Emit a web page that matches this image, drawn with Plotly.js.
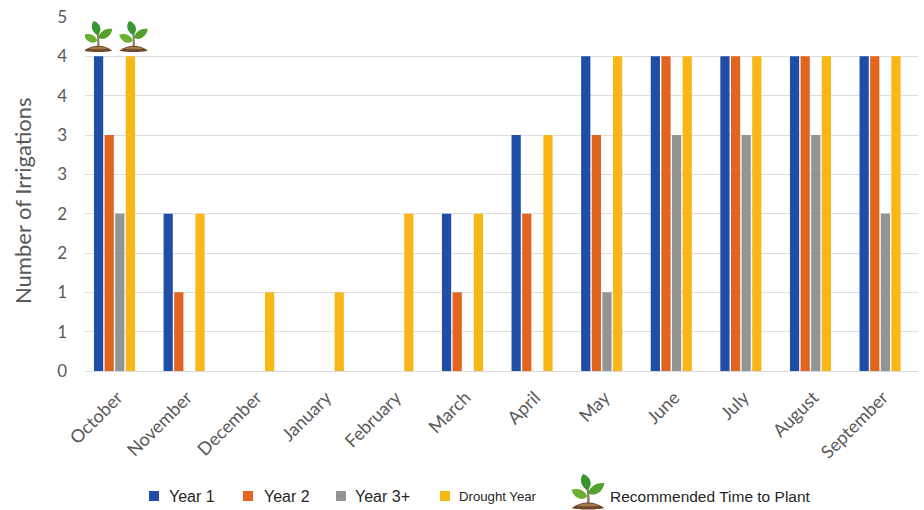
<!DOCTYPE html>
<html>
<head>
<meta charset="utf-8">
<script src="https://cdn.plot.ly/plotly-3.0.1.min.js"></script>
<style>html,body{margin:0;padding:0;background:#fff}#chart{width:924px;height:510px}</style>
</head>
<body>
<div id="chart"></div>
<script>
const months = ["October","November","December","January","February","March","April","May","June","July","August","September"];
const year1 =   [4,2,0,0,0,2,3,4,4,4,4,4];
const year2 =   [3,1,0,0,0,1,2,3,4,4,4,4];
const year3 =   [2,0,0,0,0,0,0,1,3,3,3,2];
const drought = [4,2,1,1,2,2,3,4,4,4,4,4];
const seriesNames = ["Year 1","Year 2","Year 3+","Drought Year"];
const seriesColors = ["#1F4EA6","#E2651F","#949494","#F8B716"];
const yTickVals = [0,0.5,1,1.5,2,2.5,3,3.5,4,4.5];
const yTickText = ["0","1","1","2","2","3","3","4","4","5"];
const yTitle = "Number of Irrigations";
const plantNote = "Recommended Time to Plant";

// Seedling icon used above the chart and in the key
const plantSvg = `<svg xmlns="http://www.w3.org/2000/svg" viewBox="0 0 100 110">
<path d="M46 94 C49 74 48 58 45 42 L52 42 C55 60 55 78 55 94Z" fill="#8c7a63"/>
<path d="M48 68 C38 48 20 42 0 48 C6 72 32 86 48 68Z" fill="#6bb033"/>
<path d="M50 58 C60 34 78 26 100 28 C96 54 70 72 50 58Z" fill="#55a02c"/>
<path d="M48 50 C24 36 24 10 36 0 C60 10 66 34 48 50Z" fill="#38952f"/>
<path d="M0 104 C16 92 34 87 50 87 C68 87 86 93 100 104 C82 110 18 110 0 104Z" fill="#6e4a2a"/>
<path d="M16 97 C30 91 40 90 50 90 C62 90 74 92 84 97 C66 100 34 100 16 97Z" fill="#a5794a"/>
</svg>`;
const plantSrc = "data:image/svg+xml;charset=utf-8," + encodeURIComponent(plantSvg);

const PLOT = {left:85, right:918, top:17, bottom:371};
const fx = px => (px - PLOT.left) / (PLOT.right - PLOT.left);
const fy = py => (PLOT.bottom - py) / (PLOT.bottom - PLOT.top);

const values = [year1, year2, year3, drought];
const traces = values.map((v, i) => ({
  type: "bar",
  name: seriesNames[i],
  x: months,
  y: v,
  marker: {color: seriesColors[i], line: {width: 0}},
  hoverinfo: "x+y+name"
}));

// Key drawn along the bottom edge
const keyX = [149, 243, 336, 440];
const keyText = [167, 262, 353, 457];
const keySize = [16, 16, 16, 13.2];
const keyShapes = keyX.map((x, i) => ({
  type: "rect", xref: "paper", yref: "paper",
  x0: fx(x), x1: fx(x + 10), y0: fy(501), y1: fy(491),
  fillcolor: seriesColors[i], line: {width: 0}
}));
const keyNotes = keyText.map((x, i) => ({
  xref: "paper", yref: "paper", x: fx(x), y: fy(496),
  xanchor: "left", yanchor: "middle", showarrow: false,
  text: seriesNames[i],
  font: {family: "Liberation Sans, Arial, sans-serif", size: keySize[i], color: "#262626"}
}));
keyNotes.push({
  xref: "paper", yref: "paper", x: fx(608), y: fy(496),
  xanchor: "left", yanchor: "middle", showarrow: false,
  text: plantNote,
  font: {family: "Liberation Sans, Arial, sans-serif", size: 15.5, color: "#262626"}
});
// Vertical axis caption, set slightly below the middle of the plot
keyNotes.push({
  xref: "paper", yref: "paper", x: fx(22), y: fy(201),
  xanchor: "center", yanchor: "middle", showarrow: false, textangle: -90,
  text: yTitle,
  font: {size: 22, color: "#595959"}
});

const layout = {
  width: 924, height: 510,
  margin: {l: PLOT.left, r: 924 - PLOT.right, t: PLOT.top, b: 510 - PLOT.bottom, pad: 0},
  paper_bgcolor: "#fff", plot_bgcolor: "#fff",
  barmode: "group", bargap: 0.39, bargroupgap: 0.13,
  showlegend: false,
  font: {family: "Lato, sans-serif", color: "#595959"},
  xaxis: {
    type: "category", range: [-0.424, 11.545],
    tickangle: -45, tickfont: {size: 18, color: "#595959"},
    ticks: "", ticklabelstandoff: 8, ticklabelshift: 3,
    showgrid: false, showline: true, linecolor: "#d9d9d9", linewidth: 1, automargin: false
  },
  yaxis: {
    range: [0, 4.5], tickvals: yTickVals, ticktext: yTickText,
    tickfont: {size: 17, color: "#595959"}, ticks: "", ticklabelstandoff: 17,
    gridcolor: "#dedede", gridwidth: 1.4, zeroline: false, automargin: false
  },
  shapes: keyShapes,
  annotations: keyNotes,
  images: [
    {source: plantSrc, xref: "x", yref: "y", x: -0.237, y: 4.05, sizex: 0.42, sizey: 0.40, xanchor: "center", yanchor: "bottom", layer: "above"},
    {source: plantSrc, xref: "x", yref: "y", x: 0.273, y: 4.05, sizex: 0.42, sizey: 0.40, xanchor: "center", yanchor: "bottom", layer: "above"},
    {source: plantSrc, xref: "paper", yref: "paper", x: fx(588), y: fy(510), sizex: 34 / (PLOT.right - PLOT.left), sizey: 36 / (PLOT.bottom - PLOT.top), xanchor: "center", yanchor: "bottom", layer: "above"}
  ]
};

Plotly.newPlot("chart", traces, layout, {displayModeBar: false, responsive: false});
</script>
</body>
</html>
